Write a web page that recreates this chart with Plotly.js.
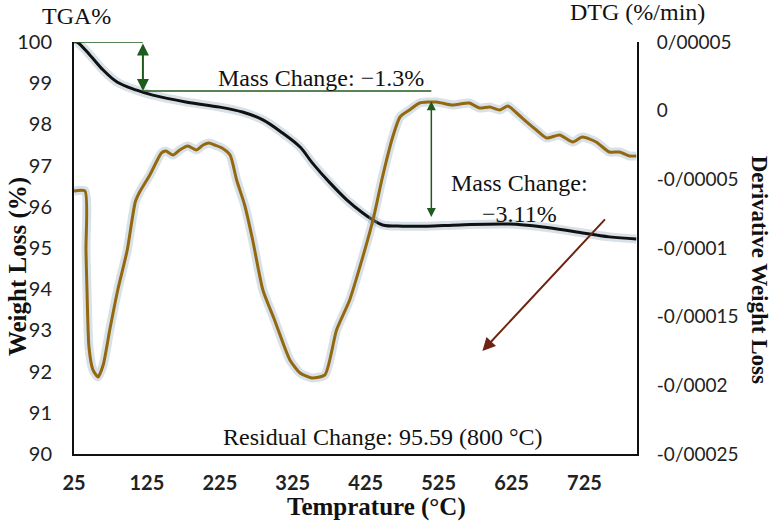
<!DOCTYPE html>
<html><head><meta charset="utf-8">
<script src="https://cdn.plot.ly/plotly-3.0.1.min.js"></script>
<style>body{margin:0;background:#fff}#c{width:774px;height:521px}</style>
</head><body><div id="c"></div>
<script>
// TGA curve (Weight %, left axis)
const tgaTemp = [25, 29, 47, 65, 84, 111, 133, 180, 225, 256, 284, 311, 335, 352, 376, 399, 421, 435, 448, 476, 509, 554, 622, 668, 714, 759, 796];
const tgaWeight = [100, 100.0, 99.68, 99.32, 99.03, 98.83, 98.71, 98.54, 98.42, 98.30, 98.11, 97.79, 97.45, 97.06, 96.58, 96.17, 95.85, 95.68, 95.56, 95.53, 95.53, 95.56, 95.58, 95.51, 95.39, 95.27, 95.22];
// DTG curve (%/min, right axis)
const dtgTemp = [25, 40, 41.4, 42.8, 45.5, 51, 58, 65, 74, 85, 98, 109, 115, 129, 145, 151, 161, 170, 181, 193, 202, 210, 218, 228, 239, 248, 259, 270, 284, 300, 305, 321, 335, 351, 369, 385, 403, 421, 435, 448, 462, 472, 485, 499, 522, 544, 567, 581, 595, 609, 620, 632, 646, 659, 673, 691, 709, 722, 741, 759, 773, 787, 796];
const dtgValue = [-5.85e-5, -5.85e-5, -10.15e-5, -13.06e-5, -17.21e-5, -18.88e-5, -19.39e-5, -18.52e-5, -15.97e-5, -13.06e-5, -10.15e-5, -6.65e-5, -5.92e-5, -4.68e-5, -3.08e-5, -2.94e-5, -3.23e-5, -2.86e-5, -2.57e-5, -2.86e-5, -2.50e-5, -2.35e-5, -2.50e-5, -2.72e-5, -3.23e-5, -5.05e-5, -6.87e-5, -9.42e-5, -13.06e-5, -15.24e-5, -15.97e-5, -18.15e-5, -19.10e-5, -19.46e-5, -19.24e-5, -15.97e-5, -13.78e-5, -10.65e-5, -7.96e-5, -4.83e-5, -1.92e-5, -0.46e-5, 0.05e-5, 0.56e-5, 0.63e-5, 0.41e-5, 0.56e-5, 0.19e-5, 0.27e-5, 0.05e-5, 0.34e-5, -0.17e-5, -0.83e-5, -1.41e-5, -1.99e-5, -1.77e-5, -2.28e-5, -1.92e-5, -2.28e-5, -3.01e-5, -3.01e-5, -3.30e-5, -3.30e-5];
// Axis ticks
const xTicks = [25, 125, 225, 325, 425, 525, 625, 725];
const yTicks = [90, 91, 92, 93, 94, 95, 96, 97, 98, 99, 100];
const y2TickVals = [5e-5, 0, -5e-5, -10e-5, -15e-5, -20e-5, -25e-5];
const y2TickText = ["0/00005", "0", "-0/00005", "-0/0001", "-0/00015", "-0/0002", "-0/00025"];
// Annotation values
const massChange1 = {temp: 119.5, top: 100, bottom: 98.81, lineEnd: 515};
const massChange2 = {temp: 515, top: 98.6, bottom: 95.75};
const residualArrow = {x0: 755, y0: 95.73, x1: 585, y1: 92.5};

const serif = "Liberation Serif, Times New Roman, serif";
const sans = "Lato, Open Sans, sans-serif";
const green = "#1f5a1f";
const shadow = "rgba(140,170,185,0.35)";

const traces = [
  {x: tgaTemp, y: tgaWeight, mode: "lines", line: {color: shadow, width: 9, shape: "spline"}, hoverinfo: "skip", showlegend: false},
  {x: dtgTemp, y: dtgValue, yaxis: "y2", mode: "lines", line: {color: shadow, width: 9, shape: "spline", smoothing: 0.6}, hoverinfo: "skip", showlegend: false},
  {x: dtgTemp, y: dtgValue, yaxis: "y2", mode: "lines", line: {color: "#94680f", width: 3, shape: "spline", smoothing: 0.6}, name: "DTG"},
  {x: tgaTemp, y: tgaWeight, mode: "lines", line: {color: "#111111", width: 3, shape: "spline"}, name: "TGA"}
];

const ann = (x, y, text, size, extra) => Object.assign({xref: "paper", yref: "paper", x: x, y: y, xanchor: "center", yanchor: "middle", text: text, showarrow: false, font: {family: serif, size: size, color: "#111"}}, extra || {});

const layout = {
  width: 774, height: 521,
  margin: {l: 74, r: 137, t: 42, b: 67},
  paper_bgcolor: "#fff", plot_bgcolor: "#fff",
  showlegend: false,
  xaxis: {range: [25, 797], tickvals: xTicks, showgrid: false, zeroline: false,
    showline: true, linecolor: "#111", linewidth: 2,
    ticks: "", ticklabelstandoff: 10,
    tickfont: {family: sans, size: 20, color: "#222", weight: "bold"}},
  yaxis: {range: [90, 100], tickvals: yTicks, showgrid: false, zeroline: false,
    showline: true, linecolor: "#111", linewidth: 2,
    ticks: "", ticklabelstandoff: 16,
    tickfont: {family: sans, size: 20, color: "#222"}},
  yaxis2: {range: [-25e-5, 5e-5], overlaying: "y", side: "right", tickvals: y2TickVals, ticktext: y2TickText,
    showgrid: false, zeroline: false, showline: true, linecolor: "#111", linewidth: 2,
    ticks: "", ticklabelstandoff: 14,
    tickfont: {family: sans, size: 19, color: "#222"}},
  shapes: [
    {type: "line", xref: "x", yref: "y", x0: 25, x1: massChange1.temp, y0: massChange1.top, y1: massChange1.top, line: {color: green, width: 1.5}},
    {type: "line", xref: "x", yref: "y", x0: massChange1.temp, x1: massChange1.lineEnd, y0: massChange1.bottom, y1: massChange1.bottom, line: {color: green, width: 1.5}}
  ],
  annotations: [
    {xref: "x", yref: "y", x: massChange1.temp, y: massChange1.bottom, ax: massChange1.temp, ay: massChange1.top, axref: "x", ayref: "y",
      showarrow: true, arrowhead: 2, arrowside: "end+start", arrowsize: 1.2, arrowwidth: 2, arrowcolor: green, text: ""},
    {xref: "x", yref: "y", x: massChange2.temp, y: massChange2.bottom, ax: massChange2.temp, ay: massChange2.top, axref: "x", ayref: "y",
      showarrow: true, arrowhead: 2, arrowside: "end+start", arrowsize: 1.2, arrowwidth: 1.5, arrowcolor: green, text: ""},
    {xref: "x", yref: "y", x: residualArrow.x1, y: residualArrow.y1, ax: residualArrow.x0, ay: residualArrow.y0, axref: "x", ayref: "y",
      showarrow: true, arrowhead: 2, arrowsize: 1.3, arrowwidth: 2, arrowcolor: "#6e2410", text: ""},
    ann(0.439, 0.913, "Mass Change: −1.3%", 24),
    ann(0.792, 0.619, "Mass Change:<br>−3.11%", 24),
    ann(0.549, 0.041, "Residual Change: 95.59 (800 °C)", 24),
    ann(0.004, 1.063, "TGA%", 24),
    ann(1.0, 1.072, "DTG (%/min)", 24),
    ann(0.537, -0.129, "<b>Temprature (°C)</b>", 25),
    ann(-0.0995, 0.456, "<b>Weight Loss (%)</b>", 25, {textangle: -90}),
    ann(1.217, 0.447, "<b>Derivative Weight Loss</b>", 23, {textangle: 90})
  ]
};
Plotly.newPlot("c", traces, layout, {displayModeBar: false, staticPlot: true});
</script></body></html>
